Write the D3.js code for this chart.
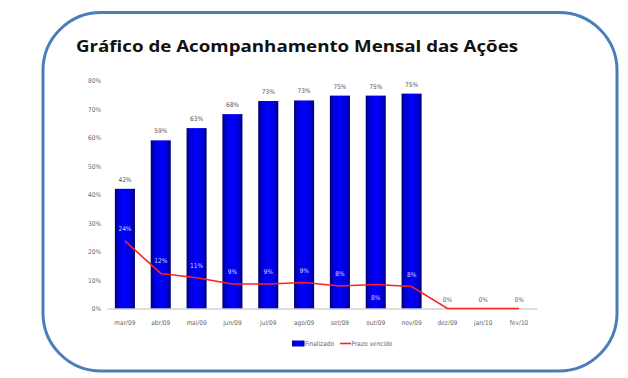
<!DOCTYPE html>
<html>
<head>
<meta charset="utf-8">
<script src="https://cdn.jsdelivr.net/npm/d3@7"></script>
<style>
html,body{margin:0;padding:0;background:#fff;}
svg{display:block;}
</style>
</head>
<body>
<svg id="chart" width="628" height="378"></svg>
<script>
const categories = ["mar/09","abr/09","mai/09","jun/09","jul/09","ago/09","set/09","out/09","nov/09","dez/09","jan/10","fev/10"];
const finalizado = [0.42,0.59,0.633,0.682,0.728,0.73,0.747,0.747,0.754,null,null,null];
const prazoVencido = [0.237,0.123,0.108,0.086,0.086,0.091,0.079,0.084,0.077,0,0,0];
const prazoLabelBelow = [false,false,false,false,false,false,false,true,false,false,false,false];
const yTicks = [0,0.1,0.2,0.3,0.4,0.5,0.6,0.7,0.8];
const title = "Gráfico de Acompanhamento Mensal das Ações";
const legendLabels = ["Finalizado","Prazo vencido"];

const svg = d3.select("#chart");
const defs = svg.append("defs");
const grad = defs.append("linearGradient").attr("id","barGrad").attr("x1","0").attr("x2","1").attr("y1","0").attr("y2","0");
grad.append("stop").attr("offset","0%").attr("stop-color","#000070");
grad.append("stop").attr("offset","18%").attr("stop-color","#0000d8");
grad.append("stop").attr("offset","50%").attr("stop-color","#0000ff");
grad.append("stop").attr("offset","82%").attr("stop-color","#0000d8");
grad.append("stop").attr("offset","100%").attr("stop-color","#000070");

// Rounded frame
svg.append("rect").attr("x",43).attr("y",12.5).attr("width",574).attr("height",358.5)
  .attr("rx",58).attr("ry",58).attr("fill","#fff").attr("stroke","#4a7ebb").attr("stroke-width",3);

// Title
svg.append("text").attr("x",76).attr("y",52).text(title)
  .attr("font-family","'Open Sans', 'DejaVu Sans', sans-serif").attr("font-weight","bold")
  .attr("font-size",16).attr("fill","#111").attr("textLength",442).attr("lengthAdjust","spacingAndGlyphs");

const x = d3.scaleBand().domain(categories).range([107,537]).paddingInner(0.44).paddingOuter(0.22);
const y = d3.scaleLinear().domain([0,0.8]).range([308.5,80.5]);

const font = "'Liberation Sans Narrow', 'DejaVu Sans Condensed', 'Liberation Sans', sans-serif";

// Y axis labels
const yAxis = d3.axisLeft(y).tickValues(yTicks).tickFormat(d3.format(".0%")).tickSize(0).tickPadding(0);
const yg = svg.append("g").attr("transform","translate(101,0)").call(yAxis);
yg.select(".domain").remove();
yg.selectAll("text").attr("font-family",font).attr("font-size",6.5).attr("fill","#666");

// Bars
const bars = categories.map((c,i)=>({c, v: finalizado[i]})).filter(d=>d.v!=null);
svg.append("g").selectAll("rect").data(bars).join("rect")
  .attr("x",d=>x(d.c)).attr("width",x.bandwidth())
  .attr("y",d=>y(d.v)).attr("height",d=>y(0)-y(d.v))
  .attr("fill","url(#barGrad)");

// X axis
const xAxis = d3.axisBottom(x).tickSize(0).tickPadding(12);
const xg = svg.append("g").attr("transform",`translate(0,${y(0)})`).call(xAxis);
xg.select(".domain").attr("stroke","#bbb").attr("stroke-width",1.2);
xg.selectAll("text").attr("font-family",font).attr("font-size",6.5).attr("fill","#666");

// Bar labels
svg.append("g").selectAll("text").data(bars).join("text")
  .attr("x",d=>x(d.c)+x.bandwidth()/2).attr("y",d=>y(d.v)-7)
  .attr("text-anchor","middle").attr("font-family",font).attr("font-size",6.5).attr("fill","#555")
  .text(d=>d3.format(".0%")(d.v));

// Line
const pts = categories.map((c,i)=>({c, v: prazoVencido[i], below: prazoLabelBelow[i], inBar: finalizado[i]!=null}));
const line = d3.line().x(d=>x(d.c)+x.bandwidth()/2).y(d=>y(d.v));
svg.append("path").datum(pts).attr("d",line).attr("fill","none").attr("stroke","#ff2020").attr("stroke-width",1.6);

svg.append("g").selectAll("text").data(pts).join("text")
  .attr("x",d=>x(d.c)+x.bandwidth()/2)
  .attr("y",d=>d.below ? y(d.v)+15 : y(d.v)-(d.inBar?10:7))
  .attr("text-anchor","middle").attr("font-family",font).attr("font-size",6.5)
  .attr("fill",d=>d.inBar?"#d8d8ff":"#666")
  .text(d=>d3.format(".0%")(d.v));

// Legend
const lg = svg.append("g");
lg.append("rect").attr("x",292).attr("y",340.5).attr("width",12.5).attr("height",6).attr("fill","url(#barGrad)");
lg.append("text").attr("x",305).attr("y",346).text(legendLabels[0])
  .attr("font-family",font).attr("font-size",6.5).attr("fill","#666");
lg.append("line").attr("x1",340).attr("x2",351).attr("y1",343.5).attr("y2",343.5).attr("stroke","#ff2020").attr("stroke-width",1.6);
lg.append("text").attr("x",351.5).attr("y",346).text(legendLabels[1])
  .attr("font-family",font).attr("font-size",6.5).attr("fill","#666");
</script>
</body>
</html>
